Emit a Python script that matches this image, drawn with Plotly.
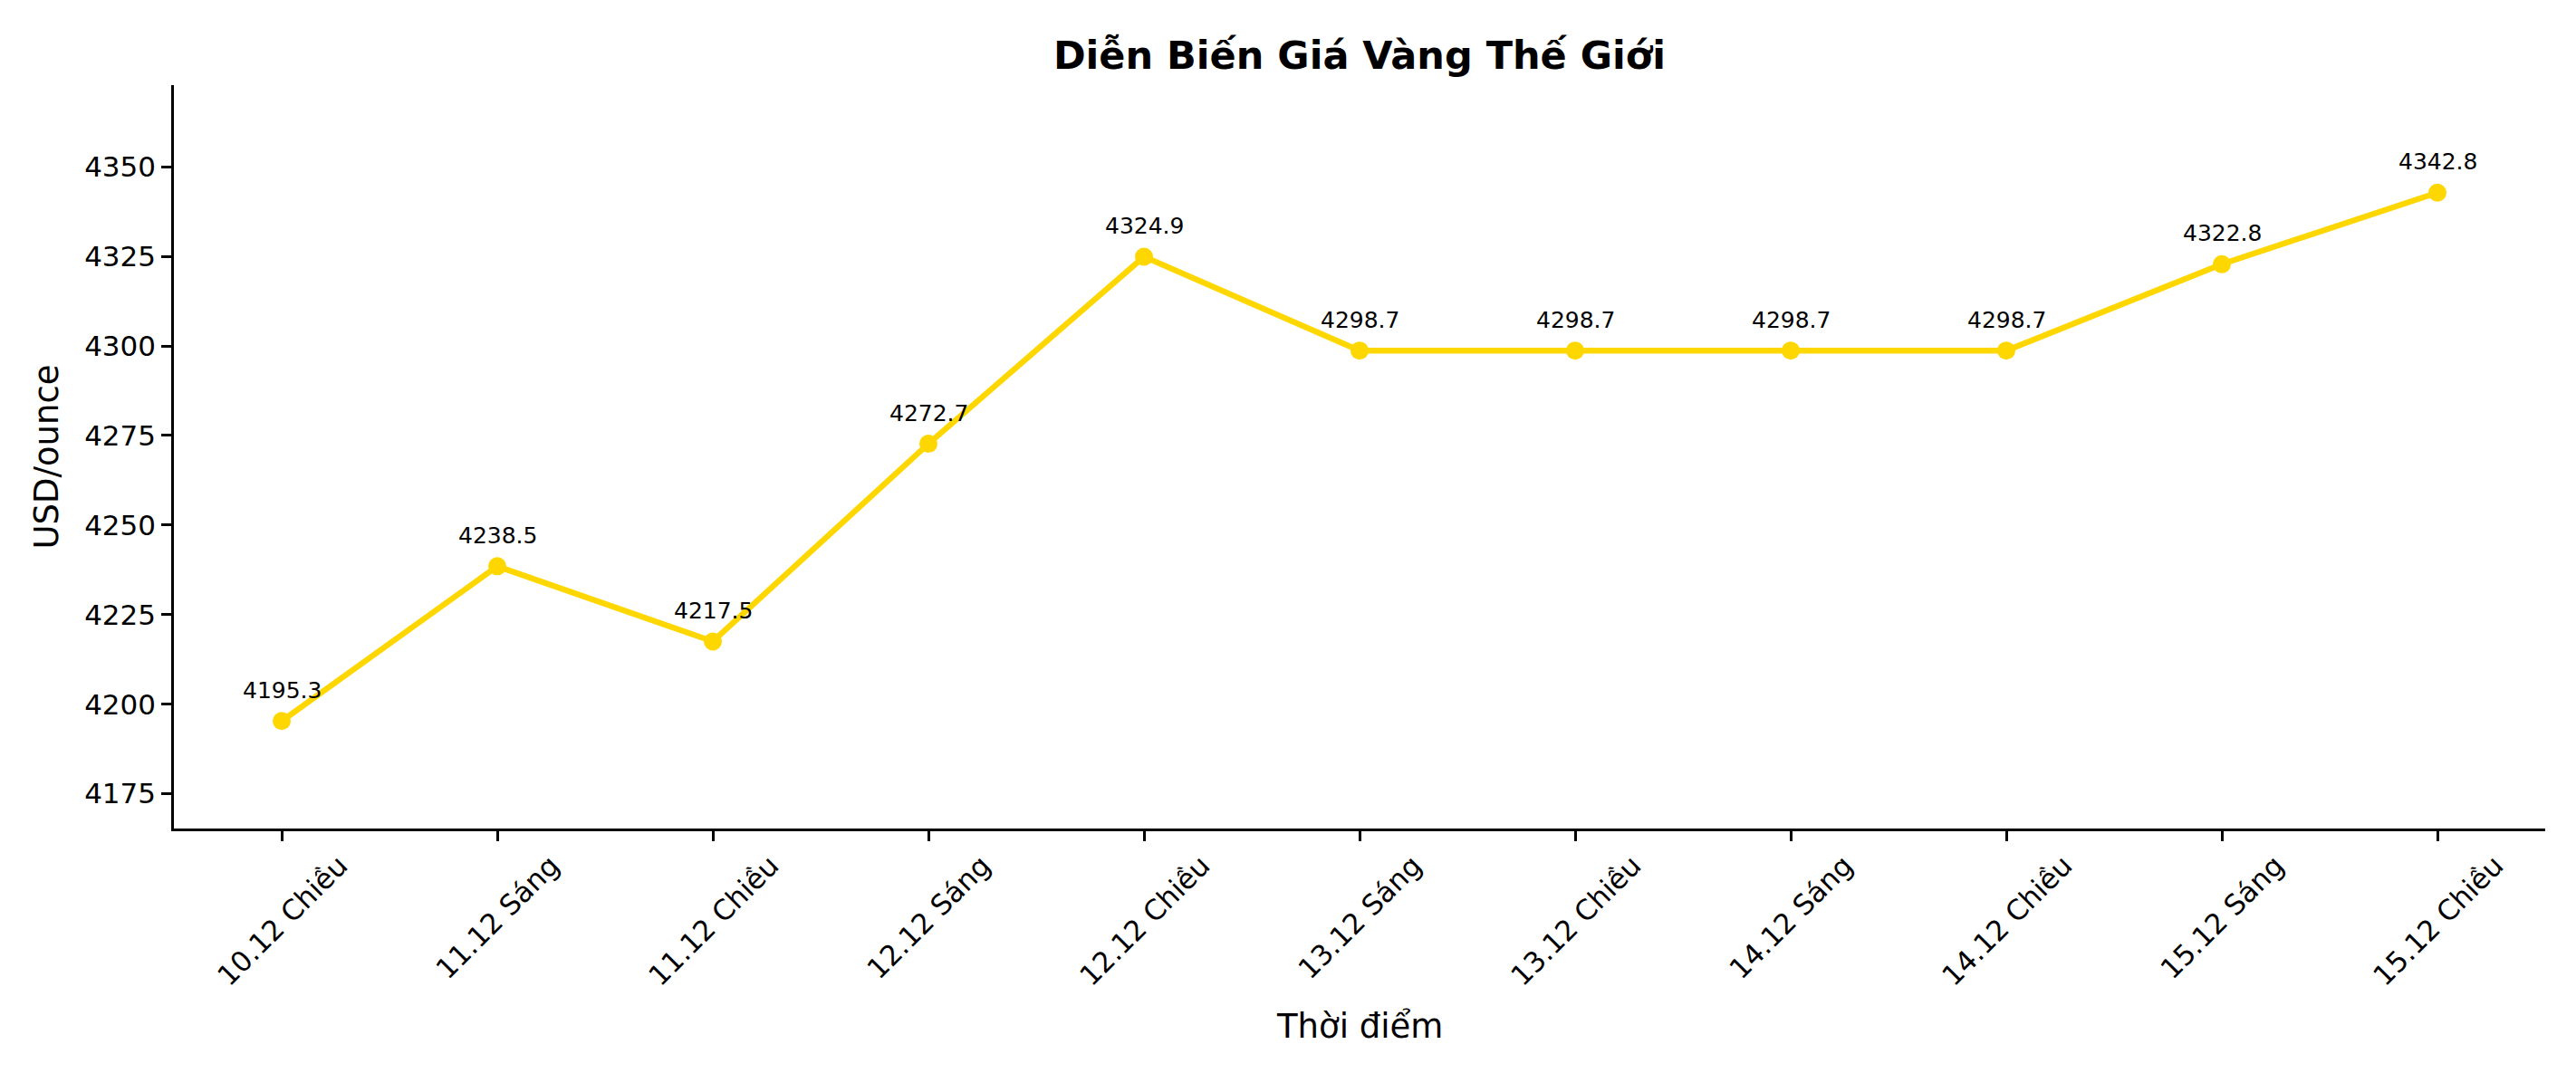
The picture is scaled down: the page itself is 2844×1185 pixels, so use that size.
import plotly.graph_objects as go

thoi_diem = ["10.12 Chiều", "11.12 Sáng", "11.12 Chiều", "12.12 Sáng", "12.12 Chiều",
             "13.12 Sáng", "13.12 Chiều", "14.12 Sáng", "14.12 Chiều", "15.12 Sáng", "15.12 Chiều"]
gia_vang = [4195.3, 4238.5, 4217.5, 4272.7, 4324.9, 4298.7, 4298.7, 4298.7, 4298.7, 4322.8, 4342.8]
y_ticks = [4175, 4200, 4225, 4250, 4275, 4300, 4325, 4350]

FONT = "DejaVu Sans"
W, H = 2844, 1185

fig = go.Figure()
fig.add_trace(go.Scatter(
    x=list(range(len(thoi_diem))), y=gia_vang,
    mode="lines+markers",
    line=dict(color="#FFD700", width=6.4),
    marker=dict(color="#FFD700", size=20),
    showlegend=False,
))

# nhãn giá trên mỗi điểm
for i, v in enumerate(gia_vang):
    fig.add_annotation(x=i, y=v, text=f"{v:.1f}", showarrow=False,
                       yanchor="middle", yshift=34,
                       font=dict(family=FONT, size=25, color="black"))

# nhãn trục x xoay 45 độ, canh giữa theo vạch chia (kiểu matplotlib)
for i, lab in enumerate(thoi_diem):
    fig.add_annotation(x=i, y=0, yref="paper", text=lab, showarrow=False,
                       textangle=-45, xanchor="center", yanchor="top", yshift=-20,
                       font=dict(family=FONT, size=31, color="black"))

fig.add_annotation(x=0.5, xref="paper", y=0, yref="paper", text="Thời điểm",
                   showarrow=False, xanchor="center", yanchor="middle", yshift=-218,
                   font=dict(family=FONT, size=37, color="black"))

fig.update_layout(
    width=W, height=H,
    margin=dict(l=184, r=42, t=86, b=278),
    plot_bgcolor="white", paper_bgcolor="white",
    font=dict(family=FONT, color="black"),
    title=dict(text="<b>Diễn Biến Giá Vàng Thế Giới</b>", x=0.5, xref="paper",
               y=1 - 53 / H, yref="container", xanchor="center", yanchor="middle",
               font=dict(family=FONT, size=43, color="black")),
)
fig.update_xaxes(
    range=[-0.5, len(thoi_diem) - 0.5],
    tickvals=list(range(len(thoi_diem))), showticklabels=False,
    showline=True, linecolor="black", linewidth=2.5, mirror=False,
    ticks="outside", ticklen=11, tickwidth=2.5, tickcolor="black",
    showgrid=False, zeroline=False,
)
fig.update_yaxes(
    range=[min(gia_vang) - 30, max(gia_vang) + 30],
    tickvals=y_ticks, tickfont=dict(family=FONT, size=31, color="black"),
    showline=True, linecolor="black", linewidth=2.5, mirror=False,
    ticks="outside", ticklen=11, tickwidth=2.5, tickcolor="black",
    showgrid=False, zeroline=False,
    title=dict(text="USD/ounce", font=dict(family=FONT, size=37, color="black"), standoff=18),
)

fig.write_html("out.html")
